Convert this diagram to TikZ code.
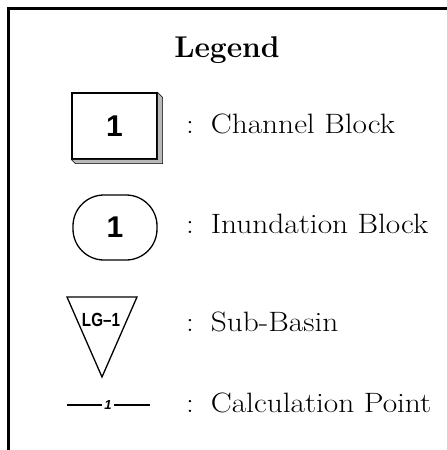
\documentclass[tikz,border=0pt]{standalone}
\usepackage{fontspec}
\newfontfamily\hv{Liberation Sans}
\usetikzlibrary{calc}
\begin{document}
\begin{tikzpicture}[x=1pt,y=-1pt,
  lbl/.style={anchor=base west,inner sep=0pt,xscale=1.12,font=\fontsize{28}{32}\selectfont},
  num/.style={font=\hv\bfseries\fontsize{30}{32}\selectfont},
  sym/.style={draw,line width=1.3pt}]
\useasboundingbox (0,0) rectangle (447,450);
\draw[line width=3pt] (8,450) -- (8,8) -- (447,8);
\node[anchor=base,inner sep=0pt,font=\bfseries\fontsize{30}{34}\selectfont] (title) at (227,57) {Legend};
% channel block
\node[sym,minimum width=85pt,minimum height=66pt,num] (cb) at (114.5,126) {1};
\fill[gray!55,draw=black,line width=0.6pt] (cb.north east) -- ($(cb.north east)+(5,5)$) -- ($(cb.south east)+(5,4)$) -- ($(cb.south west)+(4,4)$) -- (cb.south west) -- (cb.south east) -- cycle;
\node[lbl] (t1) at (186,133) {:\hspace{15pt}Channel Block};
% inundation block
\node[sym,rounded corners=31pt,minimum width=84pt,minimum height=65pt,num] (ib) at (115,227.5) {1};
\node[lbl] (t2) at (186,233) {:\hspace{15pt}Inundation Block};
% sub-basin
\coordinate (tl) at (67,297);
\coordinate (tr) at (137,297);
\coordinate (ap) at (102,377);
\draw[line width=1.3pt,line join=miter] (tl) -- (tr) -- (ap) -- cycle;
\node[inner sep=0pt,font=\hv\bfseries\fontsize{19}{20}\selectfont,xscale=0.8] (sb) at (101,320) {LG–1};
\node[lbl] (t3) at (186,331) {:\hspace{15pt}Sub-Basin};
% calculation point
\coordinate (cl) at (67,405);
\coordinate (cr) at (150,405);
\node[inner sep=2.5pt,font=\hv\bfseries\itshape\fontsize{13}{14}\selectfont] (cp) at (108,405) {1};
\draw[line width=1.8pt] (cl) -- (cp.west);
\draw[line width=1.8pt] (cp.east) -- (cr);
\node[lbl] (t4) at (186,412) {:\hspace{15pt}Calculation Point};
\end{tikzpicture}
\end{document}
